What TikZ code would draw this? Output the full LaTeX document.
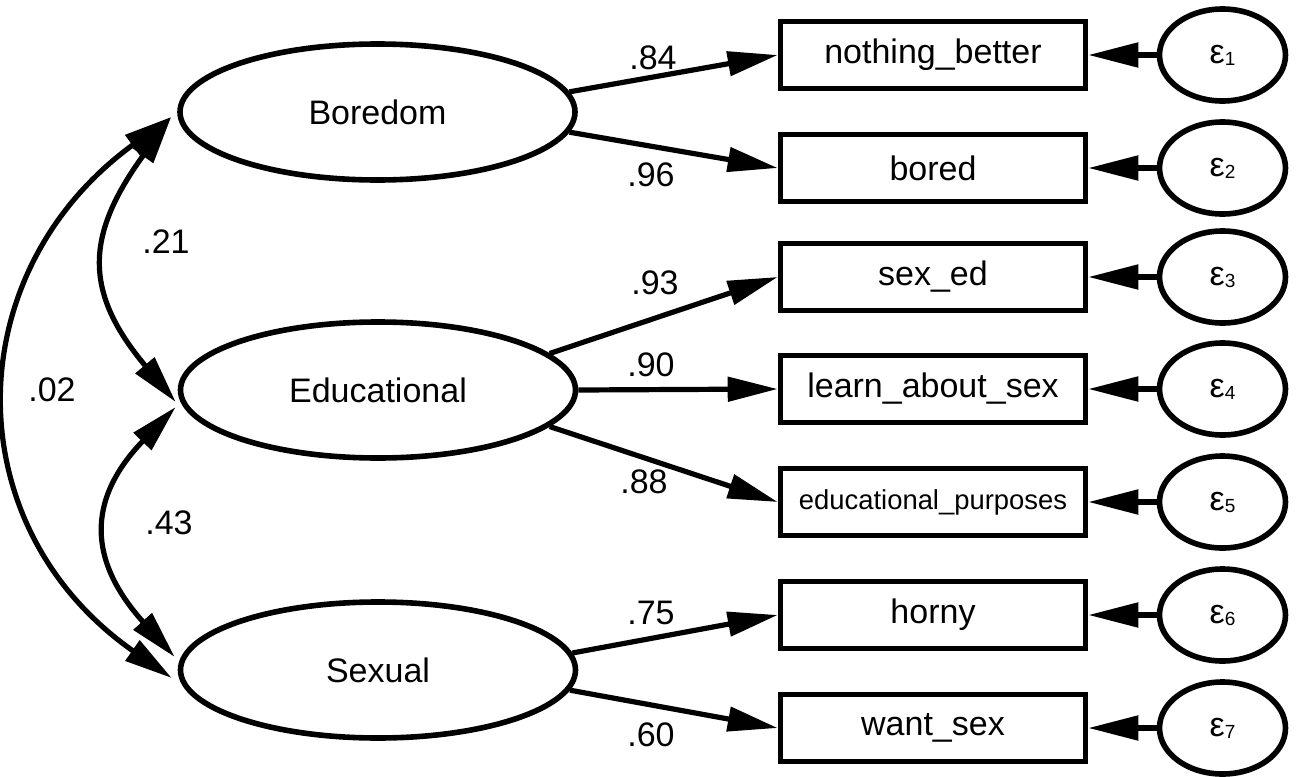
\documentclass[tikz,border=0pt]{standalone}
\usepackage{fontspec}
\setmainfont{Liberation Sans}
\usetikzlibrary{shapes.geometric,arrows.meta}

\newcommand\epsl[1]{ε\raisebox{-1pt}{\fontsize{9.5}{10}\selectfont #1}}

\tikzset{
  lat/.style={ellipse,draw,line width=2.8pt,minimum width=197.5pt,minimum height=68pt,inner sep=0pt},
  obs/.style={rectangle,draw,line width=2.8pt,minimum width=152.5pt,minimum height=33.5pt,inner sep=0pt},
  err/.style={ellipse,draw,line width=2.8pt,minimum width=63pt,minimum height=46pt,inner sep=0pt},
  load/.style={line width=2.6pt,-{Triangle[length=25pt,width=12pt]}},
  cov/.style={line width=2.6pt,{Triangle[length=24pt,width=12pt]}-{Triangle[length=24pt,width=12pt]}},
  coef/.style={inner sep=0pt}
}

\begin{document}
\begin{tikzpicture}[x=0.5pt,y=0.5pt,font=\fontsize{17}{20}\selectfont]
    \useasboundingbox (0,0) rectangle (1298,-777);

    % latents
    \node[lat] (bor) at (377.5,-112) {Boredom};
    \node[lat] (edu) at (378,-390) {Educational};
    \node[lat] (sex) at (378,-670) {Sexual};

    % indicators and errors
    \foreach \i/\y/\txt in {1/55/nothing\_better, 2/168/bored, 3/277/sex\_ed,
        4/389/learn\_about\_sex, 5/502/{\raisebox{-3pt}{\fontsize{13.7}{16}\selectfont educational\_purposes}},
        6/615/horny, 7/728/want\_sex}
    {
      \node[obs] (x\i) at (933,-\y) {\txt};
      \node[err] (e\i) at (1222.5,-\y) {\epsl{\i}};
      \draw[load] (e\i) -- (x\i);
    }

    % loadings
    \draw[load] (bor.6) -- (x1.west);
    \draw[load] (bor.-6) -- (x2.west);
    \draw[load] (edu.12) -- (x3.west);
    \draw[load] (edu.0) -- (x4.west);
    \draw[load] (edu.-12) -- (x5.west);
    \draw[load] (sex.5) -- (x6.west);
    \draw[load] (sex.-6) -- (x7.west);

    \node[coef] (w1) at (653,-58) {.84};
    \node[coef] (w2) at (651,-175) {.96};
    \node[coef] (w3) at (655,-283) {.93};
    \node[coef] (w4) at (651,-365) {.90};
    \node[coef] (w5) at (644,-482) {.88};
    \node[coef] (w6) at (651,-613) {.75};
    \node[coef] (w7) at (651,-735) {.60};

    % covariances
    \draw[cov] ([shift={(-3pt,-2.5pt)}]bor.west) to[out=234,in=130,looseness=1.3]
      ([shift={(-1pt,-6pt)}]edu.west);
    \draw[cov] ([shift={(-1pt,-8.5pt)}]edu.west) to[out=226,in=132,looseness=1.32]
      ([shift={(-1.5pt,6.5pt)}]sex.west);
    \draw[cov] ([shift={(-3pt,-2.5pt)}]bor.west) to[out=216,in=145,looseness=1.21]
      ([shift={(-3pt,-4pt)}]sex.west);

    \node[coef] (r12) at (166,-242) {.21};
    \node[coef] (r23) at (169,-523) {.43};
    \node[coef] (r13) at (52,-390) {.02};
\end{tikzpicture}
\end{document}
